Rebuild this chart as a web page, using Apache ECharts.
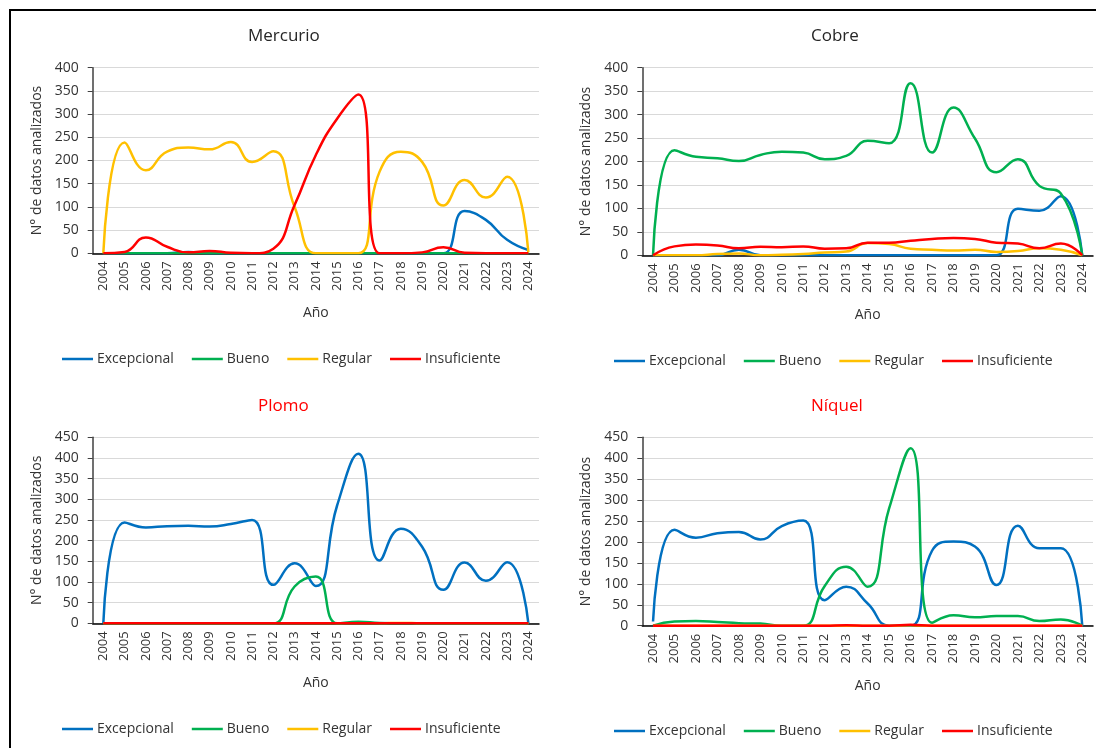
<!DOCTYPE html>
<html>
<head>
<meta charset="utf-8">
<script src="https://cdn.jsdelivr.net/npm/echarts@6/dist/echarts.min.js"></script>
<style>
html, body { margin: 0; padding: 0; background: #fff; overflow: hidden; }
#frame { position: absolute; left: 9px; top: 9px; width: 1200px; height: 900px; border: 2px solid #000; }
.panel { position: absolute; width: 548px; height: 374px; }
</style>
</head>
<body>
<div id="frame"></div>
<div id="mercurio" class="panel" style="left:0;top:0"></div>
<div id="cobre" class="panel" style="left:548px;top:0"></div>
<div id="plomo" class="panel" style="left:0;top:374px"></div>
<div id="niquel" class="panel" style="left:548px;top:374px"></div>
<script>
const years = ['2004', '2005', '2006', '2007', '2008', '2009', '2010', '2011', '2012', '2013', '2014',
  '2015', '2016', '2017', '2018', '2019', '2020', '2021', '2022', '2023', '2024']
const seriesNames = ['Excepcional', 'Bueno', 'Regular', 'Insuficiente']
const colors = ['#0070c0', '#00b050', '#ffc000', '#ff0000']

// Mercurio
const mercurioExcepcional = [0, 0, 0, 0, 3, 0, 0, 0, 0, 0, 0, 0, 0, 0, 0, 0, 0, 91, 72, 29, 7]
const mercurioBueno = [0, 0, 0, 0, 0, 0, 0, 0, 0, 0, 0, 0, 0, 0, 0, 0, 0, 0, 0, 0, 0]
const mercurioRegular = [0, 239, 179, 219, 228, 224, 240, 197, 220, 100, 0, 0, 0, 176, 219, 197, 103, 158, 120, 165, 2]
const mercurioInsuficiente = [0, 3, 34, 14, 2, 5, 1, 0, 10, 104, 212, 290, 342, 0, 0, 2, 13, 1, 0, 0, 0]

// Cobre
const cobreExcepcional = [0, 0, 0, 0, 12, 0, 0, 0, 0, 0, 0, 0, 0, 0, 0, 0, 0, 99, 95, 126, 0]
const cobreBueno = [0, 224, 210, 207, 201, 214, 221, 219, 205, 212, 244, 239, 367, 219, 315, 249, 177, 205, 148, 132, 0]
const cobreRegular = [0, 0, 0, 3, 4, 0, 1, 3, 6, 8, 26, 24, 14, 12, 10, 12, 7, 9, 15, 12, 0]
const cobreInsuficiente = [0, 19, 23, 21, 15, 18, 17, 19, 14, 15, 27, 27, 31, 35, 37, 35, 27, 25, 15, 25, 0]

// Plomo
const plomoExcepcional = [0, 244, 232, 235, 236, 234, 240, 250, 93, 145, 90, 285, 410, 152, 229, 185, 81, 147, 103, 148, 0]
const plomoBueno = [0, 0, 0, 0, 0, 0, 0, 0, 0, 89, 113, 0, 4, 1, 0, 0, 0, 0, 0, 0, 0]
const plomoRegular = [0, 0, 0, 0, 0, 0, 0, 0, 0, 0, 0, 0, 0, 0, 1, 0, 0, 0, 0, 0, 0]
const plomoInsuficiente = [0, 0, 0, 0, 0, 0, 0, 0, 0, 0, 0, 0, 0, 0, 0, 0, 0, 0, 0, 0, 0]

// Níquel
const niquelExcepcional = [10, 229, 210, 221, 224, 206, 238, 251, 61, 93, 53, 0, 0, 179, 201, 189, 97, 239, 185, 185, 0]
const niquelBueno = [0, 10, 11, 9, 6, 5, 0, 0, 95, 141, 93, 280, 424, 7, 25, 20, 23, 23, 11, 15, 0]
const niquelRegular = [0, 0, 0, 0, 0, 0, 0, 0, 0, 0, 0, 0, 1, 0, 0, 0, 0, 0, 0, 0, 0]
const niquelInsuficiente = [0, 0, 0, 0, 0, 0, 0, 0, 0, 1, 0, 0, 2, 0, 0, 0, 0, 0, 0, 0, 0]

const font = "'Open Sans', sans-serif"
const textColor = '#333'

function makeChart(id, cfg) {
  const chart = echarts.init(document.getElementById(id))
  chart.setOption({
    animation: false,
    textStyle: { fontFamily: font },
    title: {
      text: cfg.title,
      left: cfg.titleLeft,
      top: cfg.titleTop,
      textStyle: { fontFamily: font, fontSize: 17, fontWeight: 'normal', color: cfg.titleColor }
    },
    legend: {
      left: cfg.legendLeft,
      top: cfg.legendTop,
      itemWidth: 31,
      itemHeight: 14,
      itemGap: 18,
      icon: 'path://M0,6 L31,6 L31,8.5 L0,8.5 Z',
      textStyle: { fontFamily: font, fontSize: 14, color: textColor, padding: [0, 0, 0, -1] },
      data: seriesNames
    },
    grid: {
      left: cfg.grid[0],
      top: cfg.grid[1],
      width: cfg.grid[2],
      height: cfg.grid[3]
    },
    xAxis: {
      type: 'category',
      data: years,
      boundaryGap: true,
      name: 'Año',
      nameLocation: 'middle',
      nameGap: 53,
      nameTextStyle: { fontFamily: font, fontSize: 14, color: textColor },
      axisLine: { lineStyle: { color: '#000', width: 1.5 } },
      axisTick: { length: 5, lineStyle: { color: '#404040' } },
      axisLabel: { interval: 0, rotate: 90, margin: 8, fontSize: 13, color: textColor, fontFamily: font }
    },
    yAxis: {
      type: 'value',
      min: 0,
      max: cfg.yMax,
      interval: 50,
      name: 'N° de datos analizados',
      nameLocation: 'middle',
      nameGap: 42,
      nameTextStyle: { fontFamily: font, fontSize: 14, color: textColor },
      axisLine: { show: true, lineStyle: { color: '#404040', width: 1.5 } },
      axisTick: { show: true, length: 5, lineStyle: { color: '#404040' } },
      axisLabel: { margin: 14, fontSize: 14, color: textColor, fontFamily: font },
      splitLine: { lineStyle: { color: '#d9d9d9', width: 1 } }
    },
    series: cfg.data.map((values, i) => ({
      name: seriesNames[i],
      type: 'line',
      smooth: true,
      symbol: 'none',
      data: values,
      color: colors[i],
      lineStyle: { width: 2.5, color: colors[i] }
    }))
  })
}

makeChart('mercurio', {
  title: 'Mercurio', titleColor: '#262626', titleLeft: 243, titleTop: 23,
  legendLeft: 57, legendTop: 347,
  grid: [92.7, 67.7, 446.3, 185.6], yMax: 400,
  data: [mercurioExcepcional, mercurioBueno, mercurioRegular, mercurioInsuficiente]
})
makeChart('cobre', {
  title: 'Cobre', titleColor: '#262626', titleLeft: 258, titleTop: 23,
  legendLeft: 61, legendTop: 349,
  grid: [94.3, 67.7, 450.7, 187.6], yMax: 400,
  data: [cobreExcepcional, cobreBueno, cobreRegular, cobreInsuficiente]
})
makeChart('plomo', {
  title: 'Plomo', titleColor: '#ff0000', titleLeft: 253, titleTop: 19,
  legendLeft: 57, legendTop: 343,
  grid: [92.7, 63.3, 446.3, 186], yMax: 450,
  data: [plomoExcepcional, plomoBueno, plomoRegular, plomoInsuficiente]
})
makeChart('niquel', {
  title: 'Níquel', titleColor: '#ff0000', titleLeft: 258, titleTop: 19,
  legendLeft: 61, legendTop: 345,
  grid: [94.3, 63.3, 450.7, 188.4], yMax: 450,
  data: [niquelExcepcional, niquelBueno, niquelRegular, niquelInsuficiente]
})
</script>
</body>
</html>
